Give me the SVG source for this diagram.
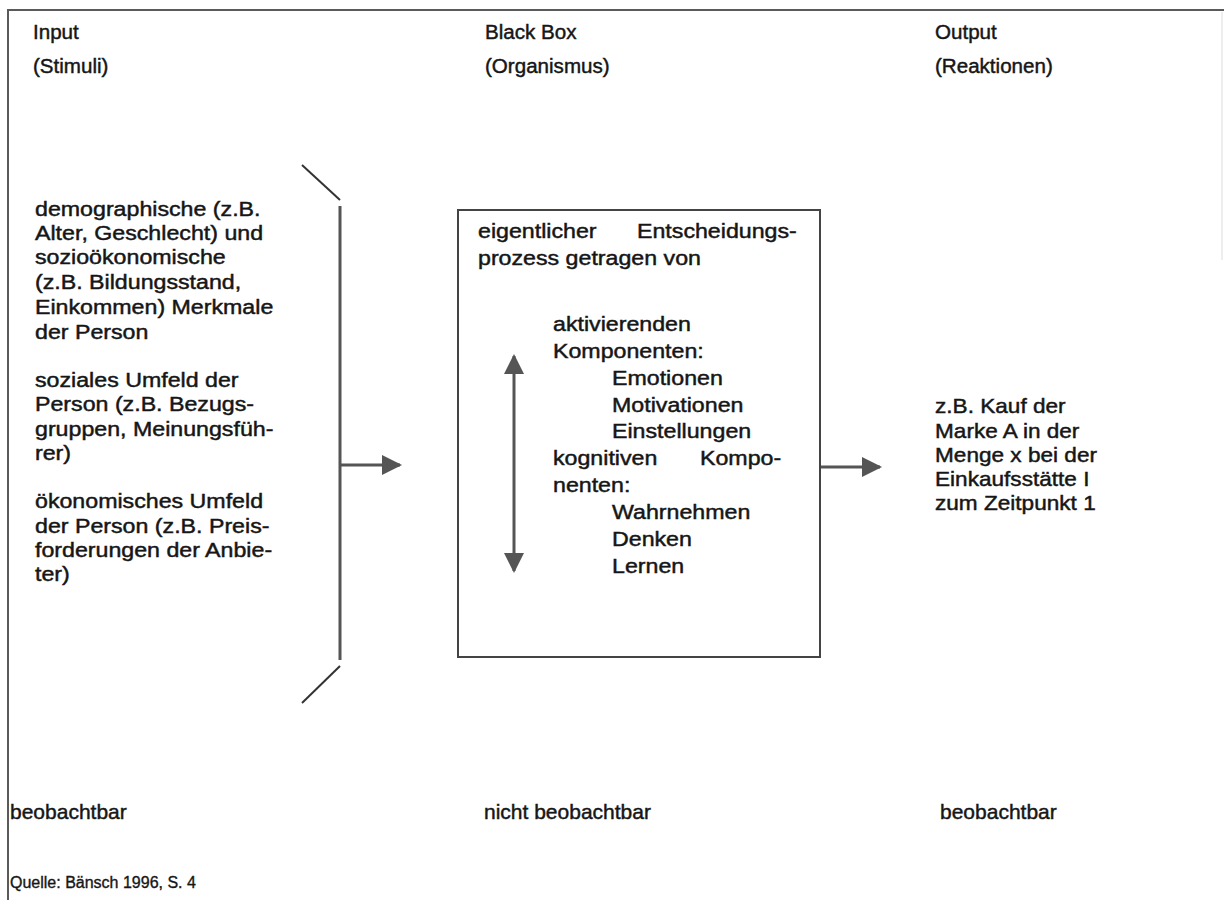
<svg xmlns="http://www.w3.org/2000/svg" width="1224" height="900" viewBox="0 0 1224 900">
  <defs>
    <style>
      text { font-family: "Liberation Sans", Arial, sans-serif; fill: #161616; stroke: #161616; stroke-width: 0.45; }
      .head { font-size: 21px; }
      .body { font-size: 20px; }
      .label { font-size: 21px; }
      .src { font-size: 16px; stroke-width: 0.35; }
      .frame { stroke: #5a5a5a; stroke-width: 2; fill: none; }
      .bracket { stroke: #333; stroke-width: 2; fill: none; }
      .conn { stroke: #555; stroke-width: 3; fill: none; }
      .box { stroke: #444; stroke-width: 2; fill: #fff; }
    </style>
    <marker id="head" viewBox="0 0 20 20" refX="18" refY="10" markerWidth="20" markerHeight="20" markerUnits="userSpaceOnUse" orient="auto-start-reverse">
      <path d="M0,0 L20,10 L0,20 Z" fill="#555"/>
    </marker>
  </defs>

  <rect width="1224" height="900" fill="#fff"/>

  <!-- outer frame -->
  <g id="frame">
    <line class="frame" x1="8" y1="10" x2="1224" y2="10"/>
    <line class="frame" x1="8" y1="9" x2="8" y2="900"/>
    <line x1="1222" y1="12" x2="1222" y2="260" stroke="#ddd" stroke-width="1"/>
  </g>

  <!-- column headings -->
  <g id="input-heading">
    <text class="head" transform="matrix(0.98 0 0 1 33 39)">Input</text>
    <text class="head" transform="matrix(0.98 0 0 1 33 73)">(Stimuli)</text>
  </g>
  <g id="blackbox-heading">
    <text class="head" transform="matrix(0.98 0 0 1 485 39)">Black Box</text>
    <text class="head" transform="matrix(0.98 0 0 1 485 73)">(Organismus)</text>
  </g>
  <g id="output-heading">
    <text class="head" transform="matrix(0.98 0 0 1 935 39)">Output</text>
    <text class="head" transform="matrix(0.98 0 0 1 935 73)">(Reaktionen)</text>
  </g>

  <!-- stimuli -->
  <g id="stimuli">
    <text class="body" transform="matrix(1.16 0 0 1 35 216)">demographische (z.B.</text>
    <text class="body" transform="matrix(1.16 0 0 1 35 240)">Alter, Geschlecht) und</text>
    <text class="body" transform="matrix(1.16 0 0 1 35 264)">sozioökonomische</text>
    <text class="body" transform="matrix(1.16 0 0 1 35 289)">(z.B. Bildungsstand,</text>
    <text class="body" transform="matrix(1.16 0 0 1 35 314)">Einkommen) Merkmale</text>
    <text class="body" transform="matrix(1.16 0 0 1 35 339)">der Person</text>
    <text class="body" transform="matrix(1.16 0 0 1 35 387)">soziales Umfeld der</text>
    <text class="body" transform="matrix(1.16 0 0 1 35 411)">Person (z.B. Bezugs-</text>
    <text class="body" transform="matrix(1.16 0 0 1 35 436)">gruppen, Meinungsfüh-</text>
    <text class="body" transform="matrix(1.16 0 0 1 35 460)">rer)</text>
    <text class="body" transform="matrix(1.16 0 0 1 35 508)">ökonomisches Umfeld</text>
    <text class="body" transform="matrix(1.16 0 0 1 35 533)">der Person (z.B. Preis-</text>
    <text class="body" transform="matrix(1.16 0 0 1 35 557)">forderungen der Anbie-</text>
    <text class="body" transform="matrix(1.16 0 0 1 35 581)">ter)</text>
  </g>

  <!-- brace collecting the stimuli -->
  <g id="stimuli-bracket">
    <line class="bracket" x1="302" y1="165" x2="340" y2="200"/>
    <line class="conn" x1="340" y1="206" x2="340" y2="660" stroke-width="2.5"/>
    <line class="bracket" x1="340" y1="666" x2="302" y2="703"/>
  </g>

  <!-- organism box -->
  <g id="blackbox">
    <rect class="box" x="458" y="210" width="362" height="447"/>
    <text class="body" transform="matrix(1.16 0 0 1 478 238)">eigentlicher</text>
    <text class="body" transform="matrix(1.16 0 0 1 637 238)">Entscheidungs-</text>
    <text class="body" transform="matrix(1.16 0 0 1 478 265)">prozess getragen von</text>
    <text class="body" transform="matrix(1.16 0 0 1 553 331)">aktivierenden</text>
    <text class="body" transform="matrix(1.16 0 0 1 553 358)">Komponenten:</text>
    <text class="body" transform="matrix(1.16 0 0 1 612 385)">Emotionen</text>
    <text class="body" transform="matrix(1.16 0 0 1 612 412)">Motivationen</text>
    <text class="body" transform="matrix(1.16 0 0 1 612 438)">Einstellungen</text>
    <text class="body" transform="matrix(1.16 0 0 1 553 465)">kognitiven</text>
    <text class="body" transform="matrix(1.16 0 0 1 700 465)">Kompo-</text>
    <text class="body" transform="matrix(1.16 0 0 1 553 492)">nenten:</text>
    <text class="body" transform="matrix(1.16 0 0 1 612 519)">Wahrnehmen</text>
    <text class="body" transform="matrix(1.16 0 0 1 612 546)">Denken</text>
    <text class="body" transform="matrix(1.16 0 0 1 612 573)">Lernen</text>
  </g>

  <!-- reaction -->
  <g id="reaction">
    <text class="body" transform="matrix(1.13 0 0 1 935 413)">z.B. Kauf der</text>
    <text class="body" transform="matrix(1.13 0 0 1 935 438)">Marke A in der</text>
    <text class="body" transform="matrix(1.13 0 0 1 935 462)">Menge x bei der</text>
    <text class="body" transform="matrix(1.13 0 0 1 935 486)">Einkaufsstätte I</text>
    <text class="body" transform="matrix(1.13 0 0 1 935 510)">zum Zeitpunkt 1</text>
  </g>

  <!-- connectors -->
  <g id="connectors">
    <line class="conn" x1="341" y1="465" x2="400" y2="465" marker-end="url(#head)"/>
    <line class="conn" x1="821" y1="467" x2="880" y2="467" marker-end="url(#head)"/>
    <line class="conn" x1="514" y1="356" x2="514" y2="571" marker-start="url(#head)" marker-end="url(#head)"/>
  </g>

  <!-- observability labels and source -->
  <g id="labels">
    <text class="label" transform="matrix(1.0 0 0 1 10 819)">beobachtbar</text>
    <text class="label" transform="matrix(1.0 0 0 1 484 819)">nicht beobachtbar</text>
    <text class="label" transform="matrix(1.0 0 0 1 940 819)">beobachtbar</text>
    <text class="src" transform="translate(10 888)">Quelle: Bänsch 1996, S. 4</text>
  </g>
</svg>
